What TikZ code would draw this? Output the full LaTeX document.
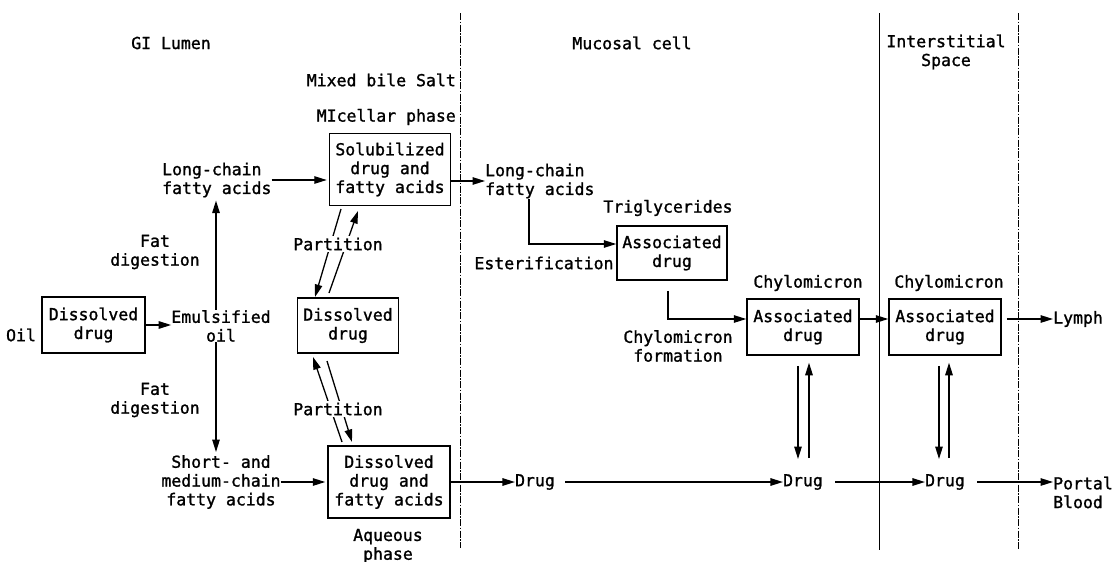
\documentclass[tikz,border=0pt]{standalone}
\usepackage{fontspec}
\setmonofont[FakeBold=1.3]{DejaVu Sans Mono}
\usetikzlibrary{arrows.meta}
\begin{document}
\begin{tikzpicture}[x=1pt,y=-1pt,
  every node/.style={font=\ttfamily\fontsize{16.5}{18.8}\selectfont, inner sep=0pt, align=center},
  box/.style={draw, line width=1.5pt},
  arr/.style={-{Triangle[length=12.5pt,width=7.5pt]}, line width=1.3pt},
  divA/.style={line width=0.9pt, dash pattern=on 7pt off 1.5pt on 1.5pt off 1.5pt},
  divB/.style={line width=1pt},
  lbl/.style={fill=white, inner xsep=1pt, inner ysep=2pt}]
\useasboundingbox (0,0) rectangle (1112,562);

% region dividers
\draw[divA] (460,13) -- (460,548);
\draw[divB] (879,13) -- (879,550);
\draw[divA] (1018,13) -- (1018,550);

% headings
\node (lumen) at (171,43) {GI Lumen};
\node (mucosal) at (632,43) {Mucosal cell};
\node (inter) at (946,52) {Interstitial\\Space};
\node[anchor=east] (bile) at (456,80) {Mixed bile Salt};
\node[anchor=east] (micel) at (456,117) {MIcellar phase};

% GI lumen
\node[anchor=west, align=left] (lcfa1) at (162,180) {Long-chain\\fatty acids};
\node (fat1) at (155,252) {Fat\\digestion};
\node (oil) at (21,335) {Oil};
\node[box, minimum width=103pt, minimum height=56pt] (diss1) at (93.5,325) {Dissolved\\drug};
\node (emul) at (221,326) {Emulsified\\oil};
\node (fat2) at (155,400) {Fat\\digestion};
\node (scfa) at (221,482) {Short- and\\medium-chain\\fatty acids};

\node[box, minimum width=121pt, minimum height=72pt] (sol) at (390,169.5) {Solubilized\\drug and\\fatty acids};
\node[box, minimum width=101pt, minimum height=55pt] (diss2) at (348,325.5) {Dissolved\\drug};
\node[box, minimum width=122pt, minimum height=72pt] (low) at (389,482) {Dissolved\\drug and\\fatty acids};
\node (aq) at (388,546) {Aqueous\\phase};

% mucosal cell
\node[anchor=west, align=left] (lcfa2) at (485,181) {Long-chain\\fatty acids};
\node (trig) at (668,208) {Triglycerides};
\node[box, minimum width=110pt, minimum height=54pt] (ass1) at (672,253) {Associated\\drug};
\node (ester) at (544,263) {Esterification};
\node (chyf) at (678,346) {Chylomicron\\formation};
\node (chy1) at (808,283) {Chylomicron};
\node[box, minimum width=112pt, minimum height=56pt] (ass2) at (803,327) {Associated\\drug};
\node (chy2) at (949,283) {Chylomicron};
\node[box, minimum width=112pt, minimum height=56pt] (ass3) at (945,327) {Associated\\drug};
\node[anchor=west] (lymph) at (1053,319) {Lymph};
\node (drug1) at (535,482) {Drug};
\node (drug2) at (803,482) {Drug};
\node (drug3) at (945,482) {Drug};
\node[anchor=west, align=left] (portal) at (1053,492.5) {Portal\\Blood};

% connectors: GI lumen
\draw[arr] (diss1.east) -- (diss1.east -| emul.west);
\draw[arr] ([xshift=-5pt]emul.north) -- ([xshift=-5pt,yshift=-3pt]emul.north |- lcfa1.south);
\draw[arr] ([xshift=-5pt]emul.south) -- ([xshift=-5pt,yshift=3pt]emul.south |- scfa.north);
\draw[arr] (lcfa1.east) -- ([xshift=-2pt]lcfa1.east -| sol.west);
\draw[arr] (scfa.east) -- ([xshift=-2pt]scfa.east -| low.west);

% partition arrows
\coordinate (pa1) at (341,209); \coordinate (pa2) at (315,297);
\coordinate (pb1) at (329,293); \coordinate (pb2) at (358,211);
\coordinate (pc1) at (342,442); \coordinate (pc2) at (313,357);
\coordinate (pd1) at (327,361); \coordinate (pd2) at (352,442);
\draw[arr] (pa1) -- (pa2);
\draw[arr] (pb1) -- (pb2);
\draw[arr] (pc1) -- (pc2);
\draw[arr] (pd1) -- (pd2);
\node[lbl] (part1) at (338,244) {Partition};
\node[lbl] (part2) at (338,409) {Partition};

% connectors: mucosal cell and beyond
\draw[arr] (lcfa2.west -| sol.east) -- (lcfa2.west);
\draw[arr] ([xshift=44pt]lcfa2.south west) |- ([yshift=9pt]ass1.west);
\draw[arr] ([xshift=-4pt,yshift=-10pt]ass1.south) |- ([yshift=8pt]ass2.west);
\draw[arr] ([yshift=8pt]ass2.east) -- ([yshift=8pt]ass3.west);
\draw[arr] ([xshift=5pt,yshift=8pt]ass3.east) -- (lymph.west);

\draw[arr] ([xshift=-5pt,yshift=-10pt]ass2.south) -- ([xshift=-5pt,yshift=15pt]drug2.north);
\draw[arr] ([xshift=6pt,yshift=16pt]drug2.north) -- ([xshift=6pt,yshift=-7pt]ass2.south);
\draw[arr] ([xshift=-6pt,yshift=-10pt]ass3.south) -- ([xshift=-6pt,yshift=15pt]drug3.north);
\draw[arr] ([xshift=4pt,yshift=16pt]drug3.north) -- ([xshift=4pt,yshift=-7pt]ass3.south);

\draw[arr] (low.east) -- (drug1.west);
\draw[arr] ([xshift=10pt]drug1.east) -- (drug2.west);
\draw[arr] ([xshift=12pt]drug2.east) -- (drug3.west);
\draw[arr] ([xshift=12pt]drug3.east) -- (drug3.east -| portal.west);
\end{tikzpicture}
\end{document}
